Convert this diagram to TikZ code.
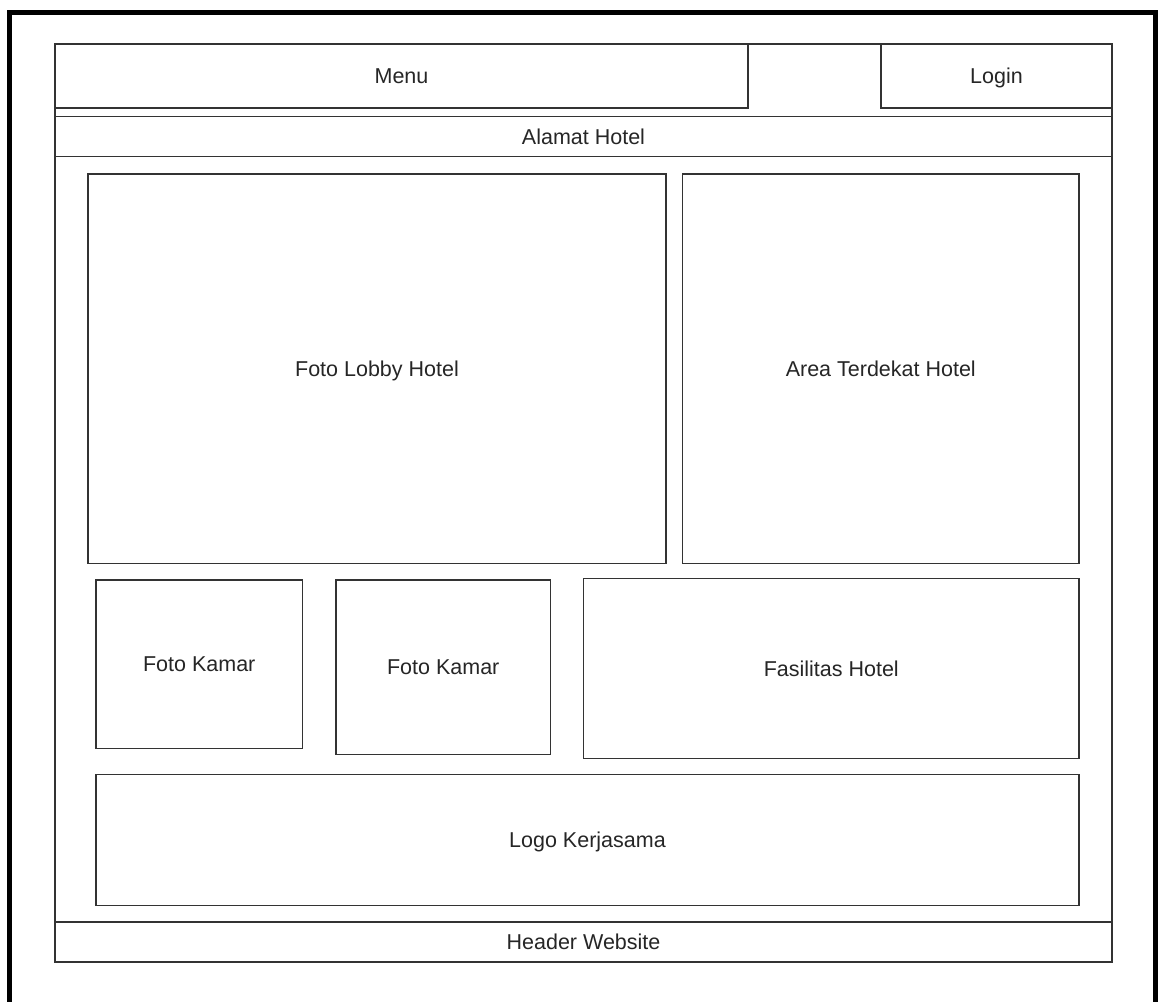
\documentclass[tikz,border=0pt]{standalone}
\usepackage{fontspec}
\setmainfont{Liberation Sans}
\begin{document}
\begin{tikzpicture}[x=1pt,y=-1pt,
  line/.style={draw=black!80, line width=1.3pt},
  box/.style={line, rectangle, inner sep=0pt, outer sep=0pt, anchor=north west,
    text=black!85, font=\fontsize{21.5}{25}\selectfont,
    text height=17.5pt, text depth=2.5pt},
]
% page area
\clip (0,0) rectangle (1158,1001);
\fill[white] (0,0) rectangle (1158,1001);
% heavy outer border (its lower edge lies below the page)
\draw[line width=5pt, black] (9.5,12.5) rectangle (1155.5,1020);

% page frame of the layout
\node[box, minimum width=1057pt, minimum height=918pt] (frame) at (55,44) {};

% top bar
\node[box, minimum width=693pt, minimum height=64pt] (menu) at (55,44) {Menu};
\node[box, minimum width=231pt, minimum height=64pt] (login) at (881,44) {Login};
\node[box, minimum width=1057pt, minimum height=40pt] (alamat) at (55,116.7) {Alamat Hotel};

% main content blocks
\node[box, minimum width=578pt, minimum height=389.5pt] (lobby) at (88,174) {Foto Lobby Hotel};
\node[box, minimum width=396.5pt, minimum height=389.5pt] (area) at (682.5,174) {Area Terdekat Hotel};

\node[box, minimum width=206.5pt, minimum height=168.5pt] (kamar1) at (96,580) {Foto Kamar};
\node[box, minimum width=214.5pt, minimum height=174.5pt] (kamar2) at (336,580) {Foto Kamar};
\node[box, minimum width=495.5pt, minimum height=180.5pt] (fasilitas) at (583.5,578.3) {Fasilitas Hotel};

\node[box, minimum width=983pt, minimum height=130.5pt] (logo) at (96,774.7) {Logo Kerjasama};

% footer bar
\node[box, minimum width=1057pt, minimum height=40pt] (header) at (55,922) {Header Website};
\end{tikzpicture}
\end{document}
